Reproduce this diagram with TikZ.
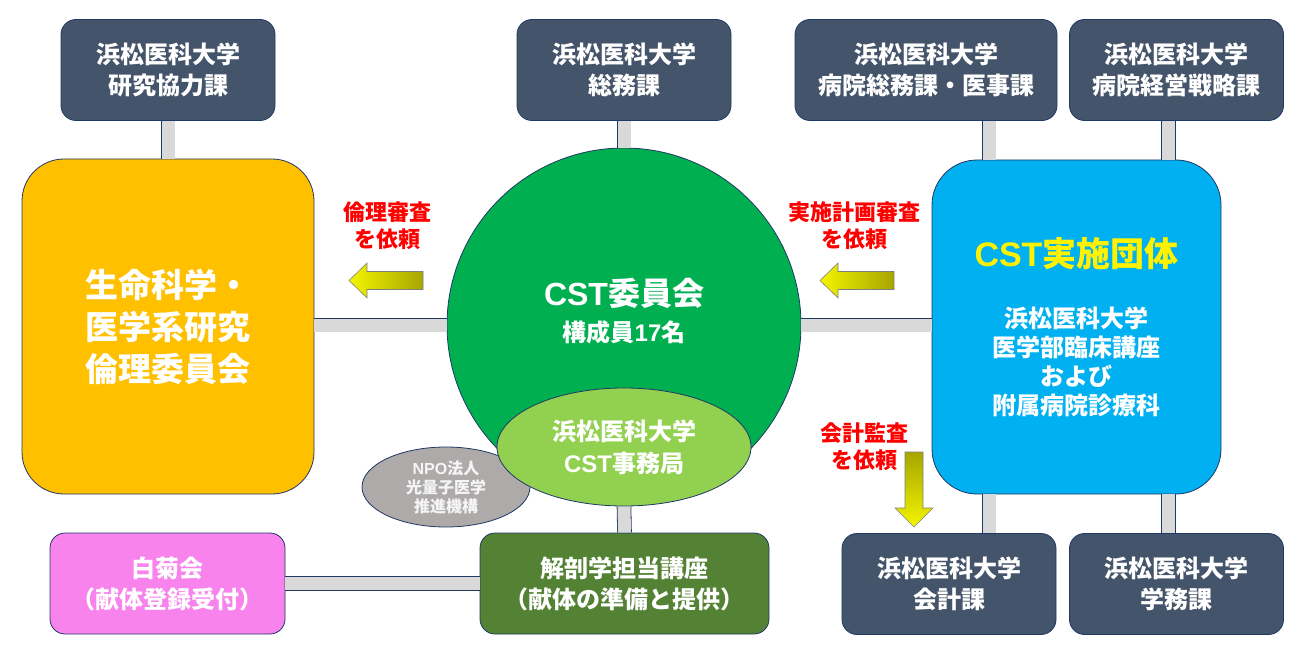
\documentclass[tikz,border=0pt]{standalone}
\usepackage{fontspec}
\setmainfont{Noto Sans CJK JP}
\newfontfamily\latinsans{Liberation Sans}
\usetikzlibrary{positioning,shapes.geometric}

\definecolor{boxslate}{HTML}{44546A}
\definecolor{edgeblue}{HTML}{203864}
\definecolor{barfill}{HTML}{D9D9D9}
\definecolor{ethicsorange}{HTML}{FFC000}
\definecolor{committeegreen}{HTML}{00B050}
\definecolor{officegreen}{HTML}{92D050}
\definecolor{npogray}{HTML}{AEAAAA}
\definecolor{groupblue}{HTML}{00B0F0}
\definecolor{donorpink}{HTML}{F883EC}
\definecolor{anatomygreen}{HTML}{548235}
\definecolor{arrowyellow}{HTML}{F4F400}
\definecolor{arrowolive}{HTML}{A6A600}

\begin{document}
\begin{tikzpicture}[x=1pt,y=-1pt,
	office/.style={draw=edgeblue,line width=0.8pt,fill=boxslate,rounded corners=15pt,minimum width=214pt,minimum height=101pt,inner sep=0pt,text=white,align=center,font=\bfseries\fontsize{24}{31}\selectfont},
	bar/.style={draw=edgeblue,line width=0.8pt,double=barfill,double distance=13pt},
	request/.style={text=red,align=center,font=\bfseries\fontsize{22}{27}\selectfont},
	blockarrow/.style={draw=gray,line width=0.6pt}]
	\useasboundingbox (0,0) rectangle (1297,655);

	% offices, top row
	\node[office](kenkyu) at (168,70){浜松医科大学\\研究協力課};
	\node[office](somu) at (624,70){浜松医科大学\\総務課};
	\node[office,minimum width=262pt](byoin) at (926,70){浜松医科大学\\病院総務課・医事課};
	\node[office](senryaku) at (1176.5,70){浜松医科大学\\病院経営戦略課};
	% offices, bottom row
	\node[office](kaikei) at (949,584){浜松医科大学\\会計課};
	\node[office](gakumu) at (1176.5,584){浜松医科大学\\学務課};

	\node[office,fill=ethicsorange,rounded corners=42pt,minimum width=292pt,minimum height=335pt,font=\bfseries\fontsize{33}{42}\selectfont](rinri) at (168,326.5){生命科学・\\医学系研究\\倫理委員会};
	\node[circle,draw=edgeblue,line width=0.8pt,fill=committeegreen,minimum size=354pt,inner sep=0pt](iinkai) at (624,325){};
	\node[text=white,align=center,font=\bfseries\fontsize{24}{36}\selectfont](iinkaiName) at (624,311){{\fontsize{32}{38}\selectfont{\latinsans CST}委員会}\\構成員{\latinsans 17}名};
	\node[ellipse,draw=edgeblue,line width=0.8pt,fill=npogray,minimum width=168pt,minimum height=80pt,inner sep=0pt,text=white!92!gray,align=center,font=\bfseries\fontsize{16}{19}\selectfont](npo) at (446,487){{\latinsans NPO}法人\\光量子医学\\推進機構};
	\node[ellipse,draw=edgeblue,line width=0.8pt,fill=officegreen,minimum width=254pt,minimum height=118pt,inner sep=0pt,text=white,align=center,font=\bfseries\fontsize{24}{32}\selectfont](jimukyoku) at (624,447){浜松医科大学\\{\latinsans CST}事務局};
	\node[office,fill=groupblue,rounded corners=45pt,minimum width=289pt,minimum height=334pt,font=\bfseries\fontsize{24}{29}\selectfont](jisshi) at (1076.5,327){{\fontsize{34}{40}\selectfont\color{yellow}{\latinsans CST}実施団体}\\[32pt]浜松医科大学\\医学部臨床講座\\および\\附属病院診療科};
	\node[office,fill=donorpink,minimum width=235pt](shiragiku) at (167.5,583.5){白菊会\\（献体登録受付）};
	\node[office,fill=anatomygreen,minimum width=289pt](kaibo) at (624.5,583.5){解剖学担当講座\\（献体の準備と提供）};

	\draw[bar] (kenkyu.south) -- (rinri.north);
	\draw[bar] (somu.south) -- (iinkai.north);
	\draw[bar] (rinri.east |- iinkai.west) -- (iinkai.west);
	\draw[bar] (iinkai.east) -- (jisshi.west |- iinkai.east);
	\draw[bar] ([xshift=63pt]byoin.south) -- ([xshift=63pt]byoin.south |- jisshi.north);
	\draw[bar] ([xshift=-8pt]senryaku.south) -- ([xshift=-8pt]senryaku.south |- jisshi.north);
	\draw[bar] ([xshift=40pt]kaikei.north) -- ([xshift=40pt]kaikei.north |- jisshi.south);
	\draw[bar] ([xshift=-8pt]gakumu.north) -- ([xshift=-8pt]gakumu.north |- jisshi.south);
	\draw[bar] (jimukyoku.south) -- (kaibo.north);
	\draw[bar] (shiragiku.east) -- (kaibo.west);

	% requests
	\node[request](ethicsReq) at (387,226){倫理審査\\を依頼};
	\node[request](planReq) at (854,226){実施計画審査\\を依頼};
	\node[request](auditReq) at (864,447){会計監査\\を依頼};

	\coordinate (ethicsTip) at (349,280.5);
	\coordinate (planTip) at (820,280.5);
	\coordinate (auditTip) at (914,527);
	\shade[blockarrow,left color=arrowyellow,right color=arrowolive] (ethicsTip) -- ++(18,-17.5) -- ++(0,8.5) -- ++(56,0) -- ++(0,18) -- ++(-56,0) -- ++(0,8.5) -- cycle;
	\shade[blockarrow,left color=arrowyellow,right color=arrowolive] (planTip) -- ++(18,-17.5) -- ++(0,8.5) -- ++(56,0) -- ++(0,18) -- ++(-56,0) -- ++(0,8.5) -- cycle;
	\shade[blockarrow,top color=arrowolive,bottom color=arrowyellow] (auditTip) -- ++(-19,-19) -- ++(10,0) -- ++(0,-56) -- ++(18,0) -- ++(0,56) -- ++(10,0) -- cycle;
\end{tikzpicture}
\end{document}
